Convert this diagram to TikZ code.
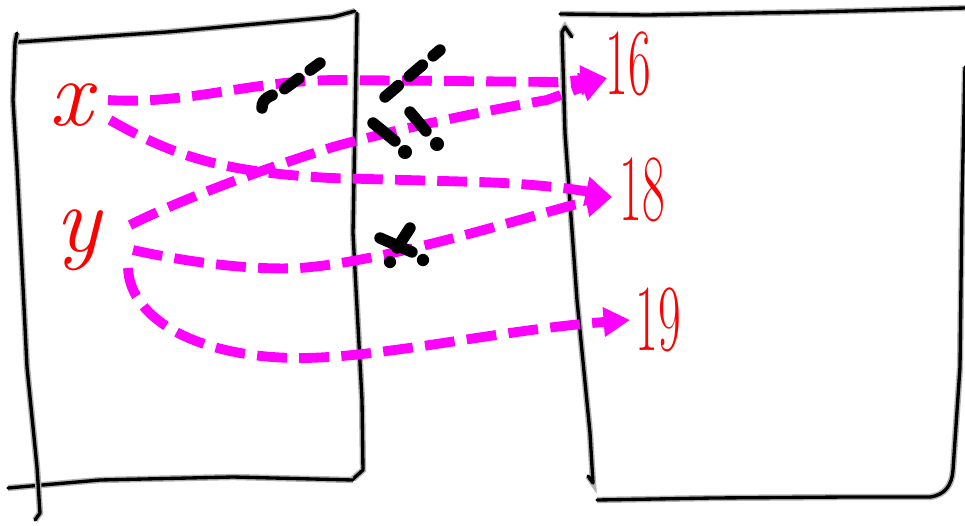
\documentclass[tikz,border=0pt]{standalone}
\usepackage{tikz}
\usetikzlibrary{arrows.meta, calc}
\definecolor{InkMagenta}{RGB}{255,0,255}
\definecolor{InkRed}{RGB}{255,0,0}

\tikzset{
  setbox/.style={black, line width=1.9pt, line cap=round, line join=round,
    preaction={draw, gray!60, line width=3.6pt}},
  elem/.style={text=InkRed, font=\fontsize{54}{54}\selectfont\itshape, inner sep=2pt},
  val/.style={text=InkRed, font=\fontsize{54}{54}\selectfont, inner sep=2pt, xscale=0.52},
  maparrow/.style={InkMagenta, line width=5.6pt, dash pattern=on 17pt off 7pt,
    -{Triangle[length=15pt, width=16pt]}},
  crossmark/.style={black, line width=6.5pt, line cap=round, dash pattern=on 10pt off 8pt}
}

\begin{document}
\begin{tikzpicture}[x=0.02cm, y=-0.02cm]
  \useasboundingbox (0,0) rectangle (965,525);
  % Domain set
  \draw[setbox] (18,42) -- (167,32) -- (333,17) -- (355,11);
  \draw[setbox] (357,13) -- (353,233) -- (362,400) -- (363,470) -- (353,479);
  \draw[setbox] (8,488) -- (100,480) -- (233,477) -- (353,480);
  \draw[setbox] (17,33) -- (15,43) -- (13,100) -- (17,167) -- (27,367) -- (37,467) -- (40,513) -- (35,520);
  % Codomain set
  \draw[setbox] (560,14) -- (647,15) -- (813,12) -- (965,8);
  \draw[setbox] (572,37) -- (565,27) -- (562,32) -- (565,133) -- (577,300) -- (590,433) -- (593,483) -- (588,476);
  \draw[setbox] (597,500) -- (713,498) -- (847,497) -- (930,497) .. controls (945,495) and (952,485) .. (953,470)
    -- (960,367) -- (962,200) -- (965,67);
  % Elements
  \node[elem] (nx) at (71,105) {x};
  \node[elem] (ny) at (78,240) {y};
  \node[val] (n16) at (628,64) {16};
  \node[val] (n18) at (642,190) {18};
  \node[val] (n19) at (658,320) {19};
  % Mapping arrows
  \draw[maparrow] ($(nx)+(37,-5)$) .. controls (190,105) and (250,80) .. (340,80)
    -- (558,82) -- ($(n16)+(-21,14)$);
  \draw[maparrow] ($(nx)+(39,15)$) .. controls (180,160) and (230,172) .. (330,178)
    -- (480,182) .. controls (540,184) and (580,190) .. ($(n18)+(-30,7)$);
  \draw[maparrow] ($(ny)+(52,-15)$) .. controls (180,200) and (260,170) .. (333,147)
    .. controls (400,128) and (500,108) .. (547,100) -- ($(n16)+(-21,14)$);
  \draw[maparrow] ($(ny)+(55,10)$) .. controls (200,265) and (260,270) .. (300,268)
    .. controls (380,262) and (500,225) .. (573,205) -- ($(n18)+(-30,7)$);
  \draw[maparrow] ($(ny)+(50,28)$) .. controls (130,320) and (200,358) .. (300,358)
    .. controls (380,358) and (500,330) .. ($(n19)+(-28,0)$);
  % Crossed out
  \draw[crossmark] (262,108) .. controls (262,98) and (270,96) .. (280,92) -- (320,63);
  \draw[crossmark] (385,97) -- (440,50);
  \draw[crossmark, solid] (373,123) -- (395,141);
  \fill (405,152) circle (4pt);
  \draw[crossmark, solid] (410,112) -- (426,131);
  \fill (437,144) circle (4pt);
  \draw[crossmark, solid] (380,238) -- (412,252);
  \draw[crossmark, solid] (410,228) -- (397,248);
  \fill (390,262) circle (3.5pt);
  \fill (423,260) circle (3.5pt);
\end{tikzpicture}
\end{document}
